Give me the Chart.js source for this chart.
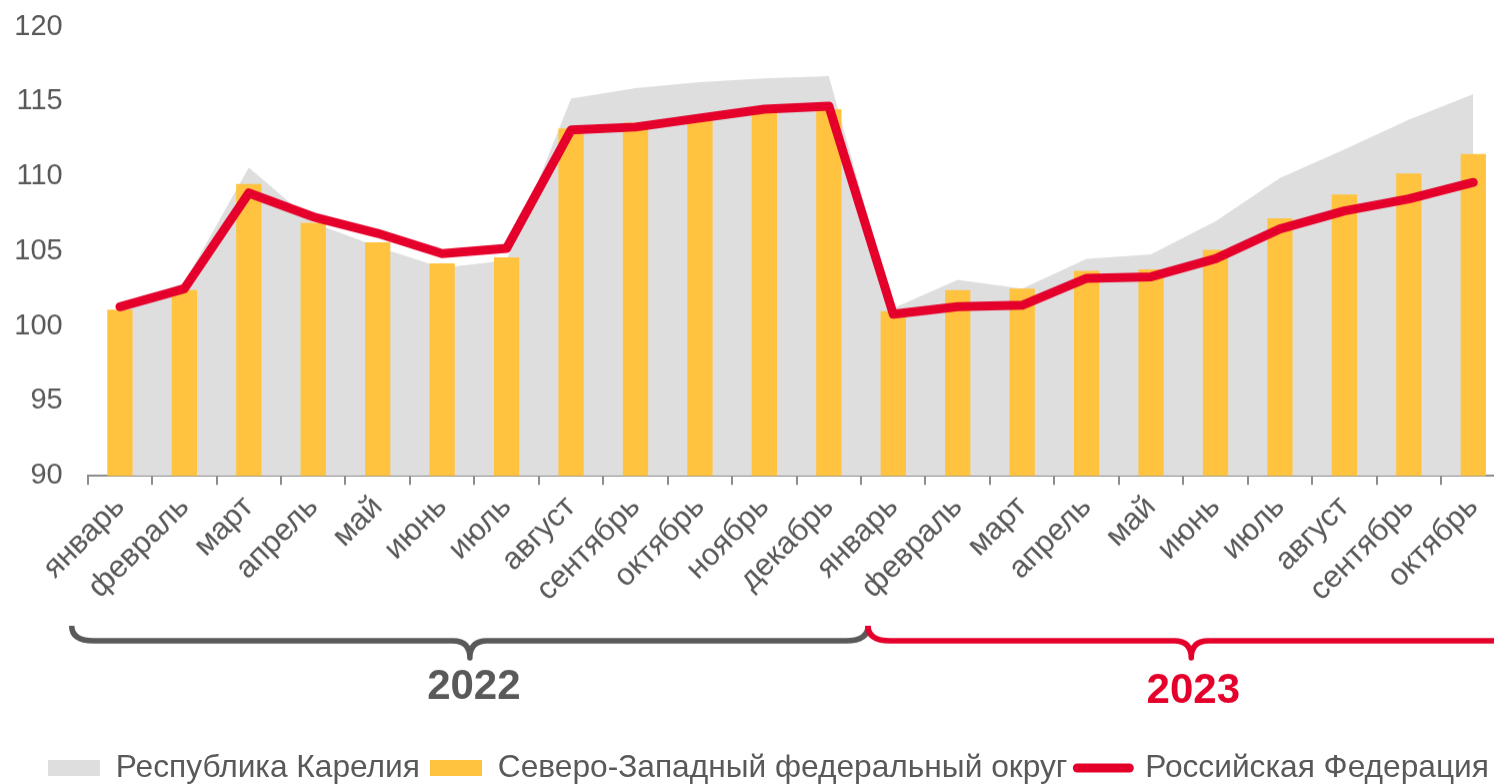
<!DOCTYPE html>
<html><head><meta charset="utf-8">
<script src="https://cdn.jsdelivr.net/npm/chart.js@4"></script>
<style>
html,body{margin:0;padding:0;overflow:hidden;background:#fff;}
#wrap{width:1510px;height:793px;position:relative;}
</style></head>
<body><div id="wrap"><canvas id="c"></canvas></div>
<script>
const categories = ['январь','февраль','март','апрель','май','июнь','июль','август','сентябрь','октябрь','ноябрь','декабрь','январь','февраль','март','апрель','май','июнь','июль','август','сентябрь','октябрь'];
const karelia = [101.2,102.9,110.6,106.9,105.3,103.9,104.4,115.2,115.9,116.3,116.55,116.7,101.2,103.1,102.5,104.5,104.8,107.0,109.9,111.8,113.8,115.5];
const nwfd = [101.1,102.4,109.5,106.9,105.6,104.2,104.6,113.2,113.6,113.8,114.3,114.5,101.0,102.4,102.5,103.7,103.8,105.1,107.2,108.8,110.2,111.5];
const russia = [101.3,102.5,108.9,107.3,106.2,104.85,105.2,113.1,113.3,113.9,114.5,114.7,100.8,101.3,101.4,103.2,103.3,104.5,106.5,107.7,108.5,109.6];
const seriesNames = ['Республика Карелия','Северо-Западный федеральный округ','Российская Федерация'];
const yearLabels = ['2022','2023'];
const yearStartIndex = [0,12];
const yMin = 90, yMax = 120, yStep = 5;

const FONT = '"Liberation Sans", Arial, sans-serif';
const TEXT = '#595959';
const RED = '#E4002B';
const LEG_FONT = 31.7, LEG_PAD = 10;
const legendTop = 767 - LEG_PAD - LEG_FONT / 2;
const canvasH = legendTop + LEG_FONT + LEG_PAD + 10;
document.getElementById('wrap').style.height = canvasH + 'px';

const bracePlugin = {
  id: 'braces',
  afterLayout(chart) {
    // left-align legend items to start at the reference position
    chart.legend.left = 48 - LEG_PAD;
  },
  afterDraw(chart) {
    const x = chart.scales.x;
    const n = categories.length;
    const half = (x.getPixelForValue(1) - x.getPixelForValue(0)) / 2;
    const b0 = x.getPixelForValue(yearStartIndex[0]) - half;
    const b1 = x.getPixelForValue(yearStartIndex[1]) - half;
    const bEnd = x.getPixelForValue(n - 1) + half;
    const c = chart.ctx;
    const y0 = 625, y1 = 640, y2 = 657;
    function brace(xa, xb, color) {
      const xm = (xa + xb) / 2, r = 17, re = 22;
      c.save();
      c.strokeStyle = color; c.lineWidth = 5.5; c.lineJoin = 'round';
      c.beginPath();
      c.moveTo(xa, y0);
      c.quadraticCurveTo(xa, y1, xa + re, y1);
      c.lineTo(xm - r, y1);
      c.quadraticCurveTo(xm, y1, xm, y2);
      c.quadraticCurveTo(xm, y1, xm + r, y1);
      c.lineTo(xb - re, y1);
      c.quadraticCurveTo(xb, y1, xb, y0);
      c.stroke();
      c.restore();
      return xm;
    }
    const m1 = brace(b0 - 16, b1 + 7, TEXT);
    const m2 = brace(b1 + 7, bEnd + 9, RED);
    c.save();
    c.font = 'bold 42px ' + FONT;
    c.textAlign = 'center'; c.textBaseline = 'middle';
    c.fillStyle = TEXT; c.fillText(yearLabels[0], m1 + 4, 686);
    c.fillStyle = RED; c.fillText(yearLabels[1], m2 + 2, 690);
    c.restore();
  }
};

new Chart(document.getElementById('c'), {
  type: 'bar',
  data: {
    labels: categories,
    datasets: [
      { type: 'line', label: seriesNames[0], data: karelia, fill: 'start',
        backgroundColor: '#DEDEDE', borderColor: '#DEDEDE', borderWidth: 0,
        pointRadius: 0, pointBorderWidth: 0, pointBackgroundColor: '#DEDEDE', tension: 0, order: 3 },
      { type: 'bar', label: seriesNames[1], data: nwfd, backgroundColor: '#FFC33F', borderWidth: 0,
        categoryPercentage: 1, barPercentage: 0.392, order: 2 },
      { type: 'line', label: seriesNames[2], data: russia, fill: false,
        borderColor: RED, backgroundColor: RED, borderWidth: 9,
        borderCapStyle: 'round', borderJoinStyle: 'round',
        pointRadius: 0, pointBorderWidth: 9, pointBorderColor: RED, pointBackgroundColor: RED, tension: 0, order: 1 }
    ]
  },
  options: {
    responsive: true, maintainAspectRatio: false, animation: false,
    layout: { padding: { left: 0, right: 3.8, top: 26.7, bottom: 0 } },
    plugins: {
      tooltip: { enabled: false },
      legend: {
        position: 'bottom', align: 'start',
        labels: {
          usePointStyle: true, pointStyleWidth: 52, boxHeight: 16, padding: LEG_PAD,
          color: TEXT, font: { family: FONT, size: LEG_FONT },
          sort: (a, b) => a.datasetIndex - b.datasetIndex,
          generateLabels(chart) {
            const items = Chart.defaults.plugins.legend.labels.generateLabels(chart);
            items.forEach(it => {
              const ds = chart.data.datasets[it.datasetIndex];
              if (ds.type === 'line' && !ds.fill) {
                it.pointStyle = 'line'; it.lineWidth = ds.borderWidth; it.lineCap = 'round';
                it.strokeStyle = ds.borderColor;
              } else {
                it.pointStyle = 'rect'; it.lineWidth = 0; it.fillStyle = ds.backgroundColor;
              }
            });
            return items;
          }
        }
      }
    },
    scales: {
      x: {
        grid: { display: true, drawOnChartArea: false, drawTicks: true, tickLength: 9, color: '#8C8C8C', lineWidth: 2, offset: true },
        border: { display: true, color: '#8C8C8C', width: 2 },
        ticks: { autoSkip: false, maxRotation: 45, minRotation: 45, color: TEXT, font: { family: FONT, size: 31 }, padding: 4 },
        afterFit(s) { s.height = legendTop - 475.3; s.paddingLeft = 0; s.paddingRight = 0; }
      },
      y: {
        min: yMin, max: yMax,
        ticks: { stepSize: yStep, color: TEXT, font: { family: FONT, size: 29 }, padding: 25 },
        grid: { display: false, drawTicks: false, tickLength: 0 }, border: { display: false },
        afterFit(s) { s.width = 87.7; s.paddingTop = 0; s.paddingBottom = 0; }
      }
    }
  },
  plugins: [bracePlugin]
});
</script>
</body></html>
